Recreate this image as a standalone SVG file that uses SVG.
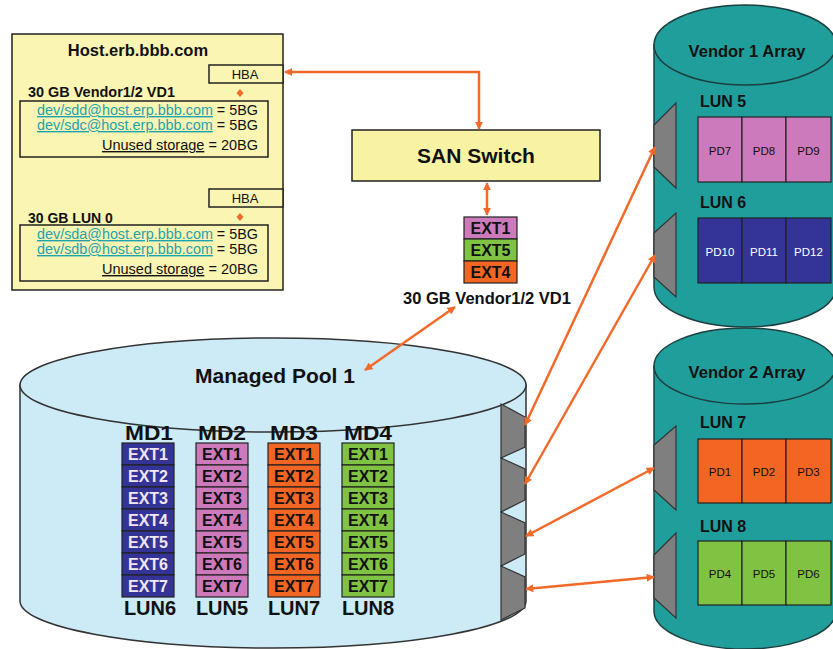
<svg xmlns="http://www.w3.org/2000/svg" width="833" height="649" viewBox="0 0 833 649">
<defs>
<marker id="ah" viewBox="0 0 10 10" refX="9" refY="5" markerWidth="3.4" markerHeight="3.2" orient="auto-start-reverse"><path d="M0,0 L10,5 L0,10 z" fill="#f26a2a"/></marker>
<style>
text{font-family:"Liberation Sans",Arial,sans-serif;fill:#111}
.b{font-weight:bold}
.box{stroke:#222;stroke-width:1.5}
.cell{stroke:#222;stroke-width:1.2}
.lnk{fill:#1ea2ae;text-decoration:underline}
.u{text-decoration:underline}
.ext{font-size:16px;text-anchor:middle;font-weight:bold}
.lbl{font-size:20px;text-anchor:middle;font-weight:bold}
.pd{font-size:11.5px;text-anchor:middle}
.port{fill:#7f7f7f;stroke:#333;stroke-width:1.2}
.con{fill:none;stroke:#f26a2a;stroke-width:2.5;marker-start:url(#ah);marker-end:url(#ah)}
.teal{fill:#1f9e9b;stroke:#1d3f3f;stroke-width:1.5}
.pool{fill:#cdeaf7;stroke:#333;stroke-width:1.5}
.pk{fill:#cc7abb}.bl{fill:#343496}.or{fill:#f26522}.gr{fill:#80c342}
.wt{fill:#f3e6f3}
</style>
</defs>
<rect width="833" height="649" fill="#fff"/>

<g id="host">
<rect x="12" y="34" width="271" height="256" fill="#faf5b2" class="box"/>
<text x="138" y="56" class="b" font-size="16.5" text-anchor="middle">Host.erb.bbb.com</text>
<rect x="209" y="65" width="74" height="18" fill="#faf5b2" class="box"/>
<text x="245" y="79" font-size="13" text-anchor="middle">HBA</text>
<polygon points="240,89 243.5,93 240,97 236.5,93" fill="#f26a2a"/>
<text x="28" y="97" class="b" font-size="14" textLength="147" lengthAdjust="spacingAndGlyphs">30 GB Vendor1/2 VD1</text>
<rect x="20" y="101" width="248" height="56" fill="none" class="box"/>
<text x="37" y="115" font-size="14" textLength="221" lengthAdjust="spacingAndGlyphs"><tspan class="lnk">dev/sdd@host.erp.bbb.com</tspan> = 5BG</text>
<text x="37" y="130" font-size="14" textLength="221" lengthAdjust="spacingAndGlyphs"><tspan class="lnk">dev/sdc@host.erp.bbb.com</tspan> = 5BG</text>
<text x="102" y="150" font-size="14" textLength="156" lengthAdjust="spacingAndGlyphs"><tspan class="u">Unused storage</tspan> = 20BG</text>
<rect x="209" y="189" width="74" height="18" fill="#faf5b2" class="box"/>
<text x="245" y="203" font-size="13" text-anchor="middle">HBA</text>
<polygon points="240,213 243.5,217 240,221 236.5,217" fill="#f26a2a"/>
<text x="28" y="223" class="b" font-size="14">30 GB LUN 0</text>
<rect x="20" y="225" width="248" height="56" fill="none" class="box"/>
<text x="37" y="239" font-size="14" textLength="221" lengthAdjust="spacingAndGlyphs"><tspan class="lnk">dev/sda@host.erp.bbb.com</tspan> = 5BG</text>
<text x="37" y="254" font-size="14" textLength="221" lengthAdjust="spacingAndGlyphs"><tspan class="lnk">dev/sdb@host.erp.bbb.com</tspan> = 5BG</text>
<text x="102" y="274" font-size="14" textLength="156" lengthAdjust="spacingAndGlyphs"><tspan class="u">Unused storage</tspan> = 20BG</text>
</g>

<g id="san-switch">
<rect x="352" y="130" width="248" height="51" fill="#f7f3a2" class="box"/>
<text x="476" y="163" class="b" font-size="21" text-anchor="middle">SAN Switch</text>
</g>

<g id="vd1">
<rect x="464" y="217" width="53" height="22" class="pk cell"/>
<rect x="464" y="239" width="53" height="22" class="gr cell"/>
<rect x="464" y="261" width="53" height="22" class="or cell"/>
<text x="490.5" y="234" class="ext">EXT1</text>
<text x="490.5" y="256" class="ext">EXT5</text>
<text x="490.5" y="278" class="ext">EXT4</text>
<text x="487" y="304" class="b" font-size="16.5" text-anchor="middle">30 GB Vendor1/2 VD1</text>
</g>

<g id="pool">
<path d="M20,385 L20,601 A253,47 0 0 0 526,601 L526,385 Z" class="pool"/>
<ellipse cx="273" cy="385" rx="253" ry="47" class="pool"/>
<text x="275" y="383" class="b" font-size="21" text-anchor="middle">Managed Pool 1</text>
<polygon points="501,404 525,417 525,447 501,458" class="port"/>
<polygon points="501,458 525,469 525,500 501,512" class="port"/>
<polygon points="501,512 525,523 525,554 501,566" class="port"/>
<polygon points="501,566 525,577 525,608 501,620" class="port"/>
</g>

<g id="md1">
<text x="149" y="440" class="lbl" textLength="48" lengthAdjust="spacingAndGlyphs">MD1</text>
<g class="bl cell">
<rect x="122" y="443" width="52" height="22"/><rect x="122" y="465" width="52" height="22"/><rect x="122" y="487" width="52" height="22"/><rect x="122" y="509" width="52" height="22"/><rect x="122" y="531" width="52" height="22"/><rect x="122" y="553" width="52" height="22"/><rect x="122" y="575" width="52" height="22"/>
</g>
<g class="ext">
<text x="148" y="460" class="wt">EXT1</text><text x="148" y="482" class="wt">EXT2</text><text x="148" y="504" class="wt">EXT3</text><text x="148" y="526" class="wt">EXT4</text><text x="148" y="548" class="wt">EXT5</text><text x="148" y="570" class="wt">EXT6</text><text x="148" y="592" class="wt">EXT7</text>
</g>
<text x="150" y="615" class="lbl">LUN6</text>
</g>

<g id="md2">
<text x="222" y="440" class="lbl" textLength="48" lengthAdjust="spacingAndGlyphs">MD2</text>
<g class="pk cell">
<rect x="196" y="443" width="52" height="22"/><rect x="196" y="465" width="52" height="22"/><rect x="196" y="487" width="52" height="22"/><rect x="196" y="509" width="52" height="22"/><rect x="196" y="531" width="52" height="22"/><rect x="196" y="553" width="52" height="22"/><rect x="196" y="575" width="52" height="22"/>
</g>
<g class="ext">
<text x="222" y="460">EXT1</text><text x="222" y="482">EXT2</text><text x="222" y="504">EXT3</text><text x="222" y="526">EXT4</text><text x="222" y="548">EXT5</text><text x="222" y="570">EXT6</text><text x="222" y="592">EXT7</text>
</g>
<text x="222" y="615" class="lbl">LUN5</text>
</g>

<g id="md3">
<text x="294" y="440" class="lbl" textLength="48" lengthAdjust="spacingAndGlyphs">MD3</text>
<g class="or cell">
<rect x="268" y="443" width="52" height="22"/><rect x="268" y="465" width="52" height="22"/><rect x="268" y="487" width="52" height="22"/><rect x="268" y="509" width="52" height="22"/><rect x="268" y="531" width="52" height="22"/><rect x="268" y="553" width="52" height="22"/><rect x="268" y="575" width="52" height="22"/>
</g>
<g class="ext">
<text x="294" y="460">EXT1</text><text x="294" y="482">EXT2</text><text x="294" y="504">EXT3</text><text x="294" y="526">EXT4</text><text x="294" y="548">EXT5</text><text x="294" y="570">EXT6</text><text x="294" y="592">EXT7</text>
</g>
<text x="294" y="615" class="lbl">LUN7</text>
</g>

<g id="md4">
<text x="368" y="440" class="lbl" textLength="48" lengthAdjust="spacingAndGlyphs">MD4</text>
<g class="gr cell">
<rect x="342" y="443" width="52" height="22"/><rect x="342" y="465" width="52" height="22"/><rect x="342" y="487" width="52" height="22"/><rect x="342" y="509" width="52" height="22"/><rect x="342" y="531" width="52" height="22"/><rect x="342" y="553" width="52" height="22"/><rect x="342" y="575" width="52" height="22"/>
</g>
<g class="ext">
<text x="368" y="460">EXT1</text><text x="368" y="482">EXT2</text><text x="368" y="504">EXT3</text><text x="368" y="526">EXT4</text><text x="368" y="548">EXT5</text><text x="368" y="570">EXT6</text><text x="368" y="592">EXT7</text>
</g>
<text x="368" y="615" class="lbl">LUN8</text>
</g>

<g id="vendor1">
<path d="M654,45 L654,287 A91,40 0 0 0 836,287 L836,45 Z" class="teal"/>
<ellipse cx="745" cy="45" rx="91" ry="40" class="teal"/>
<text x="747" y="57" class="b" font-size="16.5" text-anchor="middle">Vendor 1 Array</text>
<text x="700" y="107" class="b" font-size="16">LUN 5</text>
<rect x="698" y="117" width="44" height="65" class="pk cell"/><rect x="742" y="117" width="44" height="65" class="pk cell"/><rect x="786" y="117" width="45" height="65" class="pk cell"/>
<text x="720" y="155" class="pd">PD7</text><text x="764" y="155" class="pd">PD8</text><text x="808.5" y="155" class="pd">PD9</text>
<text x="700" y="208" class="b" font-size="16">LUN 6</text>
<rect x="698" y="218" width="44" height="65" class="bl cell"/><rect x="742" y="218" width="44" height="65" class="bl cell"/><rect x="786" y="218" width="45" height="65" class="bl cell"/>
<text x="720" y="256" class="pd" style="fill:#fff">PD10</text><text x="764" y="256" class="pd" style="fill:#fff">PD11</text><text x="808.5" y="256" class="pd" style="fill:#fff">PD12</text>
<polygon points="654,125 676,103 676,188 654,167" class="port"/>
<polygon points="654,233 676,213 676,297 654,277" class="port"/>
</g>

<g id="vendor2">
<path d="M654,366 L654,611 A91,38 0 0 0 836,611 L836,366 Z" class="teal"/>
<ellipse cx="745" cy="366" rx="91" ry="38" class="teal"/>
<text x="747" y="378" class="b" font-size="16.5" text-anchor="middle">Vendor 2 Array</text>
<text x="700" y="428" class="b" font-size="16">LUN 7</text>
<rect x="698" y="439" width="44" height="64" class="or cell"/><rect x="742" y="439" width="44" height="64" class="or cell"/><rect x="786" y="439" width="45" height="64" class="or cell"/>
<text x="720" y="476" class="pd">PD1</text><text x="764" y="476" class="pd">PD2</text><text x="808.5" y="476" class="pd">PD3</text>
<text x="700" y="532" class="b" font-size="16">LUN 8</text>
<rect x="698" y="541" width="44" height="64" class="gr cell"/><rect x="742" y="541" width="44" height="64" class="gr cell"/><rect x="786" y="541" width="45" height="64" class="gr cell"/>
<text x="720" y="578" class="pd">PD4</text><text x="764" y="578" class="pd">PD5</text><text x="808.5" y="578" class="pd">PD6</text>
<polygon points="654,445 676,426 676,510 654,490" class="port"/>
<polygon points="654,555 676,533 676,618 654,598" class="port"/>
</g>

<g id="connectors">
<path d="M285,72 H479 V129" class="con"/>
<path d="M487,183 V215" class="con"/>
<path d="M455,307 L365,370" class="con"/>
<path d="M525,425 L655,147" class="con"/>
<path d="M525,484 L655,255" class="con"/>
<path d="M526,536 L654,468" class="con"/>
<path d="M526,589 L654,577" class="con"/>
</g>
</svg>
